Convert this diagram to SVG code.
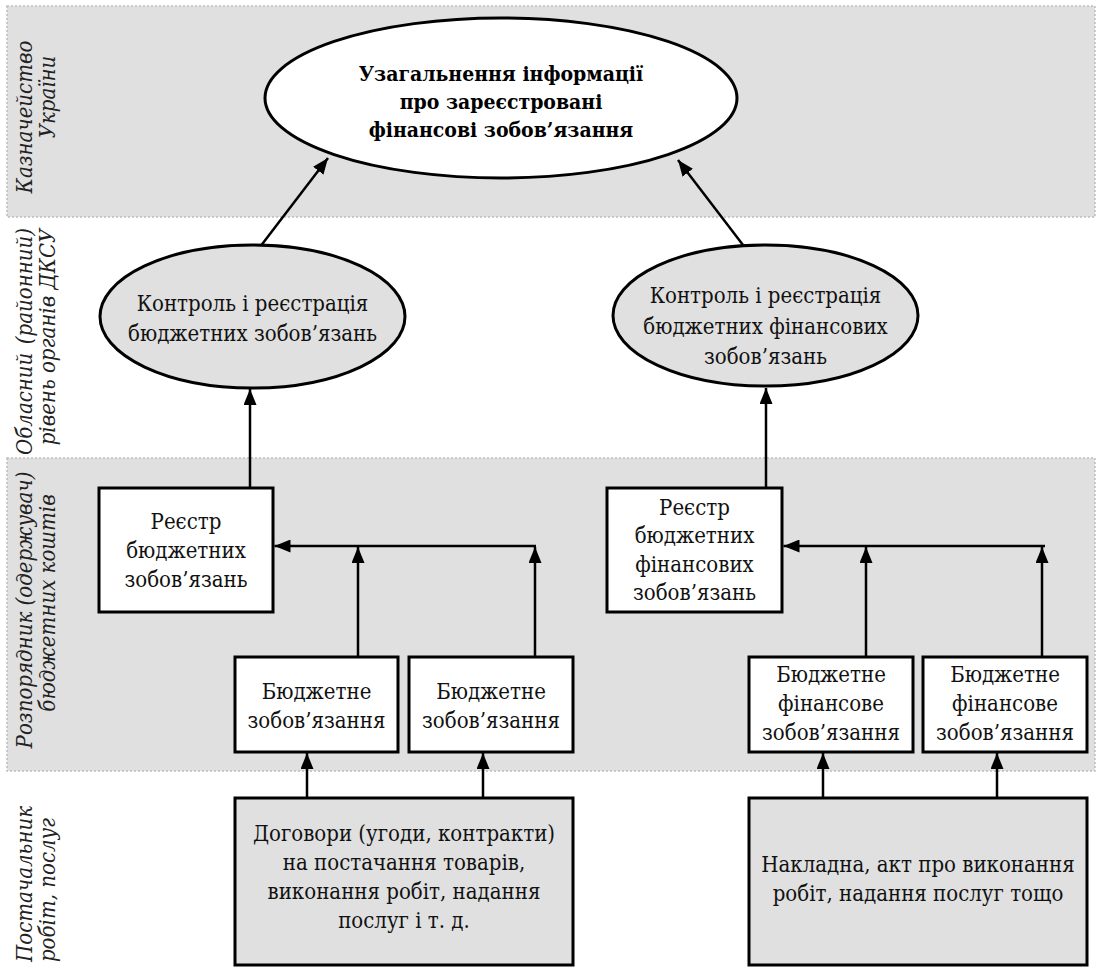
<svg xmlns="http://www.w3.org/2000/svg" width="1098" height="972" viewBox="0 0 1098 972">
  <style>
    .band { fill: #e0e0e0; stroke: #bdbdbd; stroke-width: 1.5; stroke-dasharray: 2 2; }
    .node { stroke: #000; stroke-width: 3; }
    .white { fill: #fff; }
    .grey { fill: #e0e0e0; }
    .t { font-family: 'DejaVu Serif Condensed', 'DejaVu Serif', serif; font-stretch: condensed; font-size: 22px; fill: #111; text-anchor: middle; }
    .tb { font-family: 'DejaVu Serif Condensed', 'DejaVu Serif', serif; font-stretch: condensed; font-size: 21px; font-weight: bold; fill: #000; text-anchor: middle; }
    .lane { font-family: 'DejaVu Serif Condensed', 'DejaVu Serif', serif; font-stretch: condensed; font-size: 22px; font-style: italic; fill: #222; text-anchor: middle; }
    .conn { fill: none; stroke: #000; stroke-width: 2.5; marker-end: url(#arrow); }
  </style>
  <defs>
    <marker id="arrow" markerUnits="userSpaceOnUse" markerWidth="17" markerHeight="13" refX="16" refY="6.5" orient="auto">
      <path d="M0,0 L16,6.5 L0,13 Z" fill="#000"/>
    </marker>
  </defs>

  <!-- swimlane backgrounds -->
  <g id="lanes">
    <rect class="band" x="7" y="6" width="1088" height="211"/>
    <rect class="band" x="7" y="458" width="1088" height="313"/>
  </g>

  <!-- lane captions, rotated -->
  <g id="lane-labels">
    <text class="lane" transform="translate(32,117) rotate(-90)">Казначейство</text>
    <text class="lane" transform="translate(55,97) rotate(-90)">України</text>

    <text class="lane" style="text-anchor:start" transform="translate(32,455) rotate(-90)">Обласний</text>
    <text class="lane" style="text-anchor:end" transform="translate(32,228) rotate(-90)">(районний)</text>
    <text class="lane" transform="translate(55,337) rotate(-90)">рівень органів ДКСУ</text>

    <text class="lane" transform="translate(32,610) rotate(-90)">Розпорядник (одержувач)</text>
    <text class="lane" transform="translate(55,603) rotate(-90)">бюджетних коштів</text>

    <text class="lane" transform="translate(32,884) rotate(-90)">Постачальник</text>
    <text class="lane" transform="translate(55,890) rotate(-90)">робіт, послуг</text>
  </g>

  <!-- connectors -->
  <g id="connectors">
    <path class="conn" d="M261.5,245 L328,158"/>
    <path class="conn" d="M743,245 L678,160"/>
    <path class="conn" d="M250,488 L250,389"/>
    <path class="conn" d="M766,488 L766,388"/>
    <path class="conn" d="M536,546 L274.5,546"/>
    <path class="conn" d="M358,657 L358,547"/>
    <path class="conn" d="M535,657 L535,547"/>
    <path class="conn" d="M1045,546 L783.5,546"/>
    <path class="conn" d="M866,657 L866,547"/>
    <path class="conn" d="M1042,657 L1042,547"/>
    <path class="conn" d="M307,798 L307,753"/>
    <path class="conn" d="M483,798 L483,753"/>
    <path class="conn" d="M823,798 L823,753"/>
    <path class="conn" d="M997,798 L997,753"/>
  </g>

  <g id="summary">
    <ellipse class="node white" cx="501" cy="98" rx="236" ry="80"/>
    <text class="tb" x="501" y="81">Узагальнення інформації</text>
    <text class="tb" x="501" y="109">про зареєстровані</text>
    <text class="tb" x="501" y="137">фінансові зобов’язання</text>
  </g>

  <g id="control-commitments">
    <ellipse class="node grey" cx="252.5" cy="316.5" rx="152.5" ry="71.5"/>
    <text class="t" x="252.5" y="311">Контроль і реєстрація</text>
    <text class="t" x="252.5" y="341">бюджетних зобов’язань</text>
  </g>

  <g id="control-financial">
    <ellipse class="node grey" cx="765.5" cy="315.5" rx="152.5" ry="70.5"/>
    <text class="t" x="765.5" y="303">Контроль і реєстрація</text>
    <text class="t" x="765.5" y="334">бюджетних фінансових</text>
    <text class="t" x="765.5" y="364">зобов’язань</text>
  </g>

  <g id="register-commitments">
    <rect class="node white" x="99" y="488" width="174" height="124"/>
    <text class="t" x="186" y="529">Реєстр</text>
    <text class="t" x="186" y="558">бюджетних</text>
    <text class="t" x="186" y="587">зобов’язань</text>
  </g>

  <g id="register-financial">
    <rect class="node white" x="607" y="488" width="175" height="124"/>
    <text class="t" x="694.5" y="515">Реєстр</text>
    <text class="t" x="694.5" y="543">бюджетних</text>
    <text class="t" x="694.5" y="572">фінансових</text>
    <text class="t" x="694.5" y="600">зобов’язань</text>
  </g>

  <g id="commitment-1">
    <rect class="node white" x="235" y="657" width="163" height="95"/>
    <text class="t" x="316.5" y="699">Бюджетне</text>
    <text class="t" x="316.5" y="728">зобов’язання</text>
  </g>

  <g id="commitment-2">
    <rect class="node white" x="409" y="657" width="164" height="95"/>
    <text class="t" x="491" y="699">Бюджетне</text>
    <text class="t" x="491" y="728">зобов’язання</text>
  </g>

  <g id="financial-commitment-1">
    <rect class="node white" x="749" y="657" width="164" height="95"/>
    <text class="t" x="831" y="682">Бюджетне</text>
    <text class="t" x="831" y="711">фінансове</text>
    <text class="t" x="831" y="740">зобов’язання</text>
  </g>

  <g id="financial-commitment-2">
    <rect class="node white" x="923" y="657" width="164" height="95"/>
    <text class="t" x="1005" y="682">Бюджетне</text>
    <text class="t" x="1005" y="711">фінансове</text>
    <text class="t" x="1005" y="740">зобов’язання</text>
  </g>

  <g id="contracts">
    <rect class="node grey" x="235" y="798" width="338" height="167"/>
    <text class="t" x="404" y="841">Договори (угоди, контракти)</text>
    <text class="t" x="404" y="870">на постачання товарів,</text>
    <text class="t" x="404" y="899">виконання робіт, надання</text>
    <text class="t" x="404" y="928">послуг і т. д.</text>
  </g>

  <g id="invoices">
    <rect class="node grey" x="749" y="798" width="338" height="167"/>
    <text class="t" x="918" y="872">Накладна, акт про виконання</text>
    <text class="t" x="918" y="901">робіт, надання послуг тощо</text>
  </g>
</svg>
